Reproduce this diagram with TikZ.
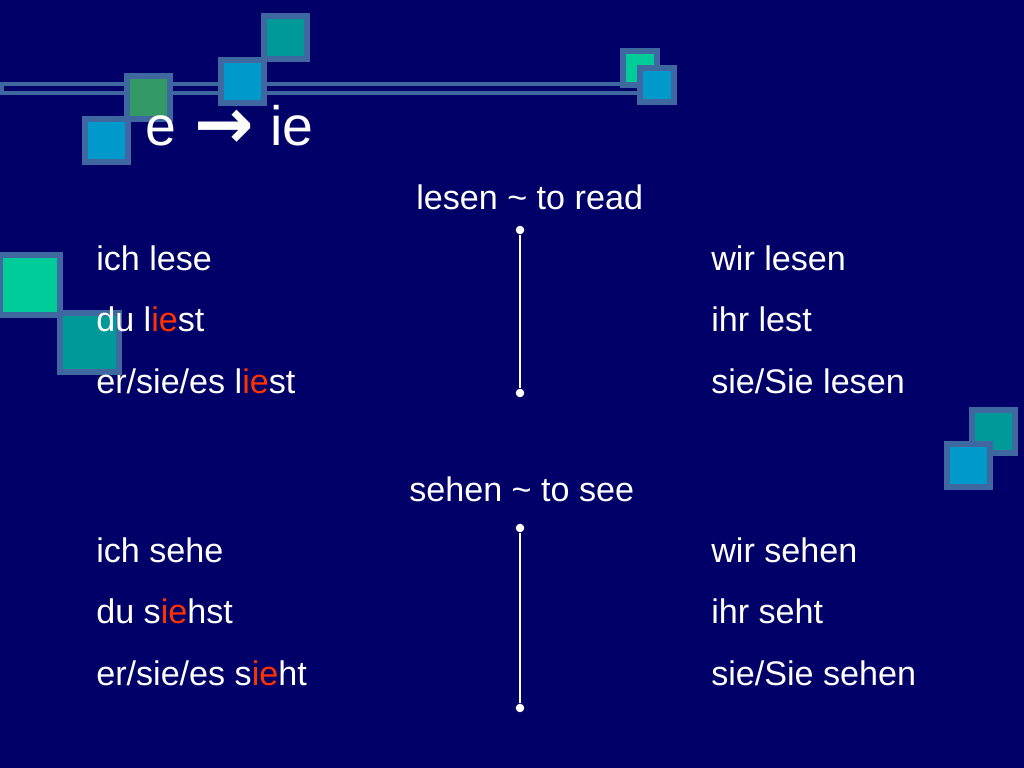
\documentclass[tikz,border=0pt]{standalone}
\usepackage{fontspec}
\setmainfont{Liberation Sans}
\newfontfamily\arrowfont{DejaVu Sans}
\definecolor{bgnavy}{RGB}{0,0,104}
\definecolor{edgeblue}{RGB}{63,104,160}
\definecolor{tealsq}{RGB}{0,153,153}
\definecolor{bluesq}{RGB}{0,153,204}
\definecolor{greensq}{RGB}{51,153,102}
\definecolor{mintsq}{RGB}{0,204,153}
\definecolor{redtxt}{RGB}{255,51,0}
\newcommand{\hl}[1]{\textcolor{redtxt}{#1}}
\tikzset{
  body/.style={text=white, inner sep=0pt, anchor=base west, font=\fontsize{24}{28}\selectfont},
  ttl/.style={text=white, inner sep=0pt, anchor=base west, font=\fontsize{39}{44}\selectfont},
  sqedge/.style={draw=edgeblue, line width=4.2pt},
  bar/.style={draw=edgeblue, line width=2.8pt},
  vline/.style={draw=white, line width=1.3pt},
  dot/.style={circle, fill=white, inner sep=0pt, minimum size=6pt}
}
\newcommand{\sqbox}[4]{% x y size fill
  \path[sqedge, fill=#4] (#1+3,#2+3) rectangle (#1+#3-3,#2+#3-3);}
\begin{document}
\begin{tikzpicture}[x=0.703125pt, y=-0.703125pt]
\useasboundingbox (0,0) rectangle (1024,768);
\fill[bgnavy] (0,0) rectangle (1024,768);
% top-right pair (green under bar)
\sqbox{620}{48}{40}{mintsq}
% double bar
\path[bar] (2,84) rectangle (652,93);
\sqbox{637}{65}{40}{bluesq}
% top-left cluster
\sqbox{261}{13}{49}{tealsq}
\sqbox{218}{57}{49}{bluesq}
\sqbox{124}{73}{49}{greensq}
\sqbox{82}{116}{49}{bluesq}
% left middle pair
\sqbox{-3}{252}{66}{mintsq}
\sqbox{57}{310}{65}{tealsq}
% right pair
\sqbox{969}{407}{49}{tealsq}
\sqbox{944}{441}{49}{bluesq}
% title
\node[ttl] (title) at (145,146) {e\hspace{0.33em}{\arrowfont\bfseries\fontsize{50}{50}\selectfont\raisebox{-0.04em}{→}}\hspace{0.3em}ie};
% lesen block
\node[body] (h1) at (416,210) {lesen \textasciitilde{} to read};
\node[body] (l1) at (96,271) {ich lese};
\node[body] (l2) at (96,332) {du l\hl{ie}st};
\node[body] (l3) at (96,393) {er/sie/es l\hl{ie}st};
\node[body] (r1) at (711,271) {wir lesen};
\node[body] (r2) at (711,332) {ihr lest};
\node[body] (r3) at (711,393) {sie/Sie lesen};
\node[dot] (d1) at (520,230) {};
\node[dot] (d2) at (520,393) {};
\draw[vline] (d1) -- (d2);
% sehen block
\node[body] (h2) at (409,501) {sehen \textasciitilde{} to see};
\node[body] (s1) at (96,562) {ich sehe};
\node[body] (s2) at (96,623) {du s\hl{ie}hst};
\node[body] (s3) at (96,685) {er/sie/es s\hl{ie}ht};
\node[body] (t1) at (711,562) {wir sehen};
\node[body] (t2) at (711,623) {ihr seht};
\node[body] (t3) at (711,685) {sie/Sie sehen};
\node[dot] (d3) at (520,528) {};
\node[dot] (d4) at (520,708) {};
\draw[vline] (d3) -- (d4);
\end{tikzpicture}
\end{document}
